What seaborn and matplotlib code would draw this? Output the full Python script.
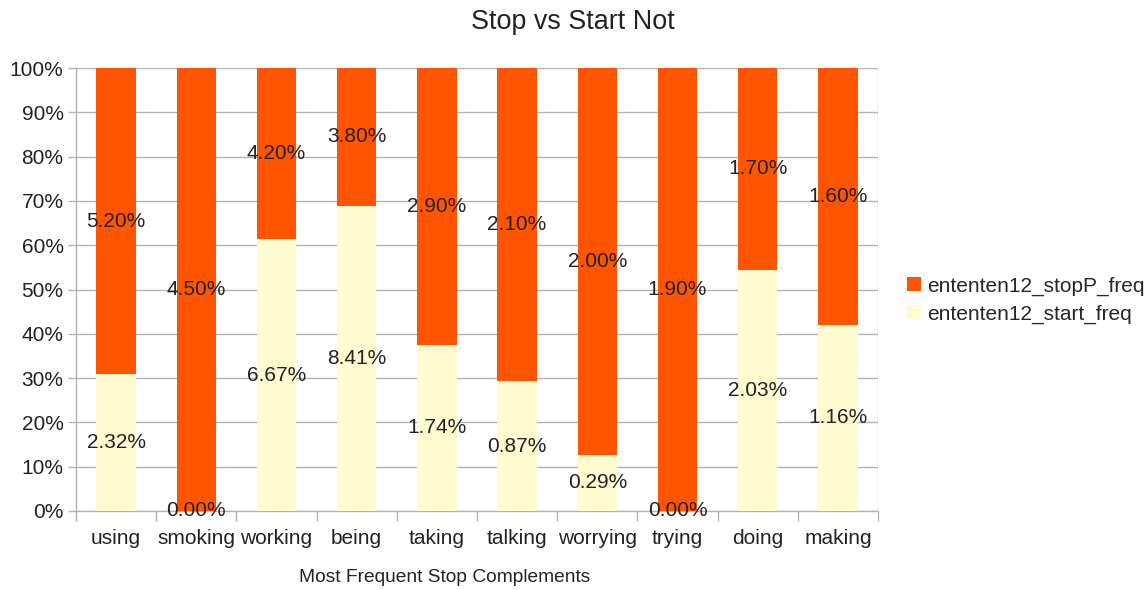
import matplotlib
matplotlib.use("Agg")
import matplotlib.pyplot as plt
import seaborn as sns
import pandas as pd
import numpy as np
from matplotlib.patches import Patch

categories = ["using", "smoking", "working", "being", "taking", "talking",
              "worrying", "trying", "doing", "making"]
stop_freq = [5.20, 4.50, 4.20, 3.80, 2.90, 2.10, 2.00, 1.90, 1.70, 1.60]
start_freq = [2.32, 0.00, 6.67, 8.41, 1.74, 0.87, 0.29, 0.00, 2.03, 1.16]
series_names = ["ententen12_stopP_freq", "ententen12_start_freq"]

sns.set_theme(style="white")
plt.rcParams["font.family"] = ["Liberation Sans", "DejaVu Sans"]

STOP_C = "#ff5500"
START_C = "#fffbd0"
GRID_C = "#b3b3b3"
TXT_C = "#222222"
FS = 15

stop = np.array(stop_freq)
start = np.array(start_freq)
total = stop + start
start_share = start / total * 100
df = pd.DataFrame({"cat": categories, "total": 100.0, "start": start_share})

fig = plt.figure(figsize=(11.45, 5.9), dpi=100)
ax = fig.add_axes([0.0664, 0.1339, 0.7004, 0.7508])

sns.barplot(data=df, x="cat", y="total", color=STOP_C, width=0.49,
            saturation=1, ax=ax, zorder=3, linewidth=0)
sns.barplot(data=df, x="cat", y="start", color=START_C, width=0.49,
            saturation=1, ax=ax, zorder=4, linewidth=0)

ax.set_xlim(-0.5, len(categories) - 0.5)
ax.set_ylim(0, 100)
ax.set_yticks(np.arange(0, 101, 10))
ax.set_yticklabels([f"{v}%" for v in range(0, 101, 10)], fontsize=FS, color=TXT_C)
ax.tick_params(axis="y", length=6, width=1, color=GRID_C, pad=3, left=True)
ax.set_xticks(range(len(categories)))
ax.set_xticklabels(categories, fontsize=FS, color=TXT_C)
ax.tick_params(axis="x", length=0, pad=13)
# category boundary ticks
ax.set_xticks(np.arange(-0.5, len(categories), 1), minor=True)
ax.tick_params(axis="x", which="minor", length=7, width=1, color=GRID_C, bottom=True)

ax.grid(axis="y", color=GRID_C, linewidth=1, zorder=0)
for s in ["top", "right"]:
    ax.spines[s].set_visible(False)
for s in ["left", "bottom"]:
    ax.spines[s].set_color(GRID_C)
    ax.spines[s].set_linewidth(1)
ax.axvline(len(categories) - 0.5, color=GRID_C, linewidth=1, zorder=0)

for i in range(len(categories)):
    ss = start_share[i]
    ax.text(i, (ss + 100) / 2, f"{stop[i]:.2f}%", ha="center", va="center",
            fontsize=FS, color=TXT_C, zorder=6)
    ax.text(i, ss / 2, f"{start[i]:.2f}%", ha="center", va="center",
            fontsize=FS, color=TXT_C, zorder=6)

ax.set_xlabel("Most Frequent Stop Complements", fontsize=13.8, color=TXT_C, va="center")
ax.xaxis.set_label_coords(0.459, -0.151)
ax.set_ylabel("")
fig.suptitle("Stop vs Start Not", fontsize=19.4, x=0.5, y=0.985, color=TXT_C)

handles = [Patch(facecolor=STOP_C, edgecolor="none"), Patch(facecolor=START_C, edgecolor="none")]
fig.legend(handles, series_names, loc="center left", bbox_to_anchor=(0.792, 0.491),
           frameon=False, fontsize=FS, handlelength=0.67, handleheight=0.67,
           handletextpad=0.3, labelspacing=0.42, borderpad=0, borderaxespad=0)

fig.savefig("out.png", dpi=100)
